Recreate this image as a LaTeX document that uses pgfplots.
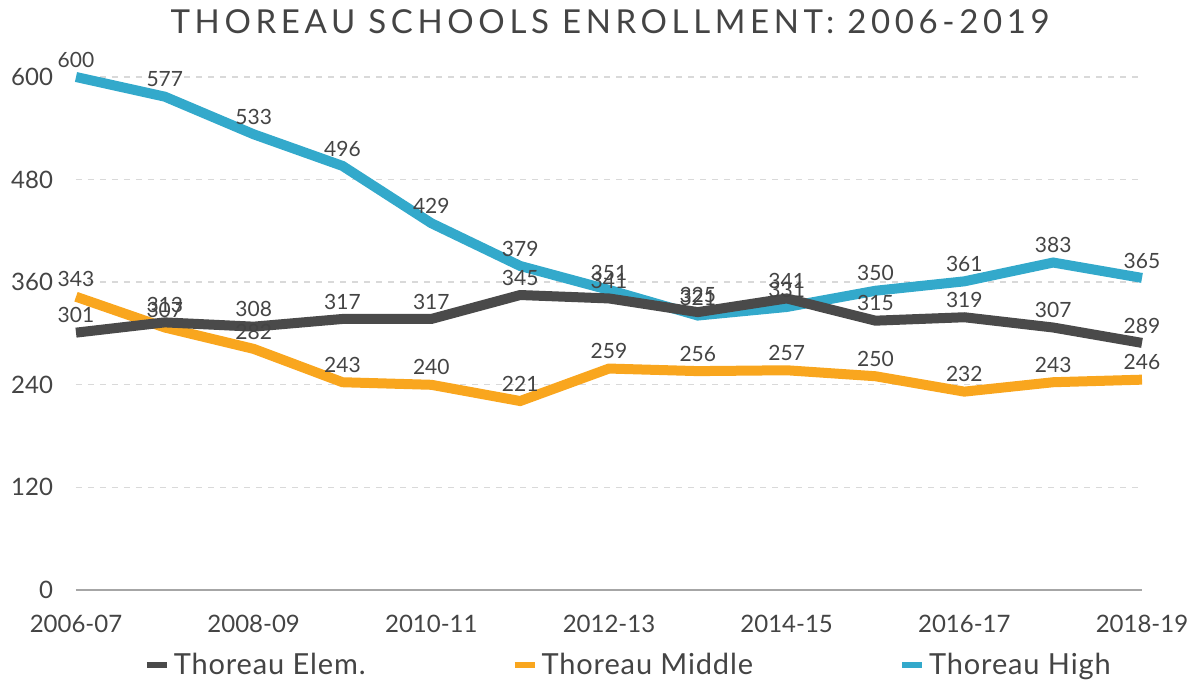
\documentclass[border=0pt]{standalone}
\usepackage{fontspec}
\setmainfont{Lato}
\newfontfamily\titlefont[LetterSpace=14]{Lato}
\newfontfamily\legfont[LetterSpace=3]{Lato}
\usepackage{pgfplots}
\pgfplotsset{compat=1.18}
\definecolor{elem}{HTML}{4A4A4A}
\definecolor{middle}{HTML}{F9A61E}
\definecolor{high}{HTML}{33A9CB}
\definecolor{txt}{HTML}{444444}
\definecolor{gridc}{HTML}{D9D9D9}

\begin{document}
\begin{tikzpicture}
\useasboundingbox (0,0) rectangle (598pt,345pt);
\node[font=\titlefont\fontsize{16.5}{20}\selectfont, text=txt] at (305pt,334pt) {THOREAU SCHOOLS ENROLLMENT: 2006-2019};
\begin{axis}[
  at={(38pt,50pt)}, anchor=south west,
  scale only axis,
  width=533pt, height=256.5pt,
  xmin=0, xmax=12, ymin=0, ymax=600,
  clip=false,
  xtick={0,2,...,12},
  xticklabels={2006-07,2008-09,2010-11,2012-13,2014-15,2016-17,2018-19},
  ytick={0,120,...,600},
  major tick length=0pt,
  axis x line*=bottom, axis y line*=left,
  x axis line style={draw=gray!70, line width=0.8pt, -},
  y axis line style={draw=none},
  ymajorgrids,
  grid style={dashed, gridc, line width=0.7pt},
  tick label style={font=\fontsize{12}{14}\selectfont, text=txt},
  /pgf/number format/assume math mode=true,
  yticklabel style={anchor=east, xshift=-8pt},
  xticklabel style={yshift=-9pt},
  nodes near coords,
  point meta=y,
  every node near coord/.append style={font=\fontsize{10.5}{12}\selectfont, text=txt, anchor=south, yshift=-1pt},
  legend columns=3,
  legend style={at={(0.519,-0.146)}, anchor=center, draw=none, fill=none, font=\legfont\fontsize{14.5}{16}\selectfont, text=txt,
    /tikz/every even column/.append style={column sep=71pt}},
  legend image code/.code={\draw[line width=3pt] (0pt,0pt) -- (10pt,0pt);},
]
\addlegendimage{elem}
\addlegendentry{Thoreau Elem.}
\addlegendimage{middle}
\addlegendentry{Thoreau Middle}
\addlegendimage{high}
\addlegendentry{Thoreau High}
\addplot[high, line width=5pt, forget plot] coordinates {
  (0,600) (1,577) (2,533) (3,496) (4,429) (5,379) (6,351)
  (7,321) (8,331) (9,350) (10,361) (11,383) (12,365)};
\addplot[middle, line width=5pt, forget plot] coordinates {
  (0,343) (1,307) (2,282) (3,243) (4,240) (5,221) (6,259)
  (7,256) (8,257) (9,250) (10,232) (11,243) (12,246)};
\addplot[elem, line width=5pt, forget plot] coordinates {
  (0,301) (1,313) (2,308) (3,317) (4,317) (5,345) (6,341)
  (7,325) (8,341) (9,315) (10,319) (11,307) (12,289)};
\end{axis}
\end{tikzpicture}
\end{document}
